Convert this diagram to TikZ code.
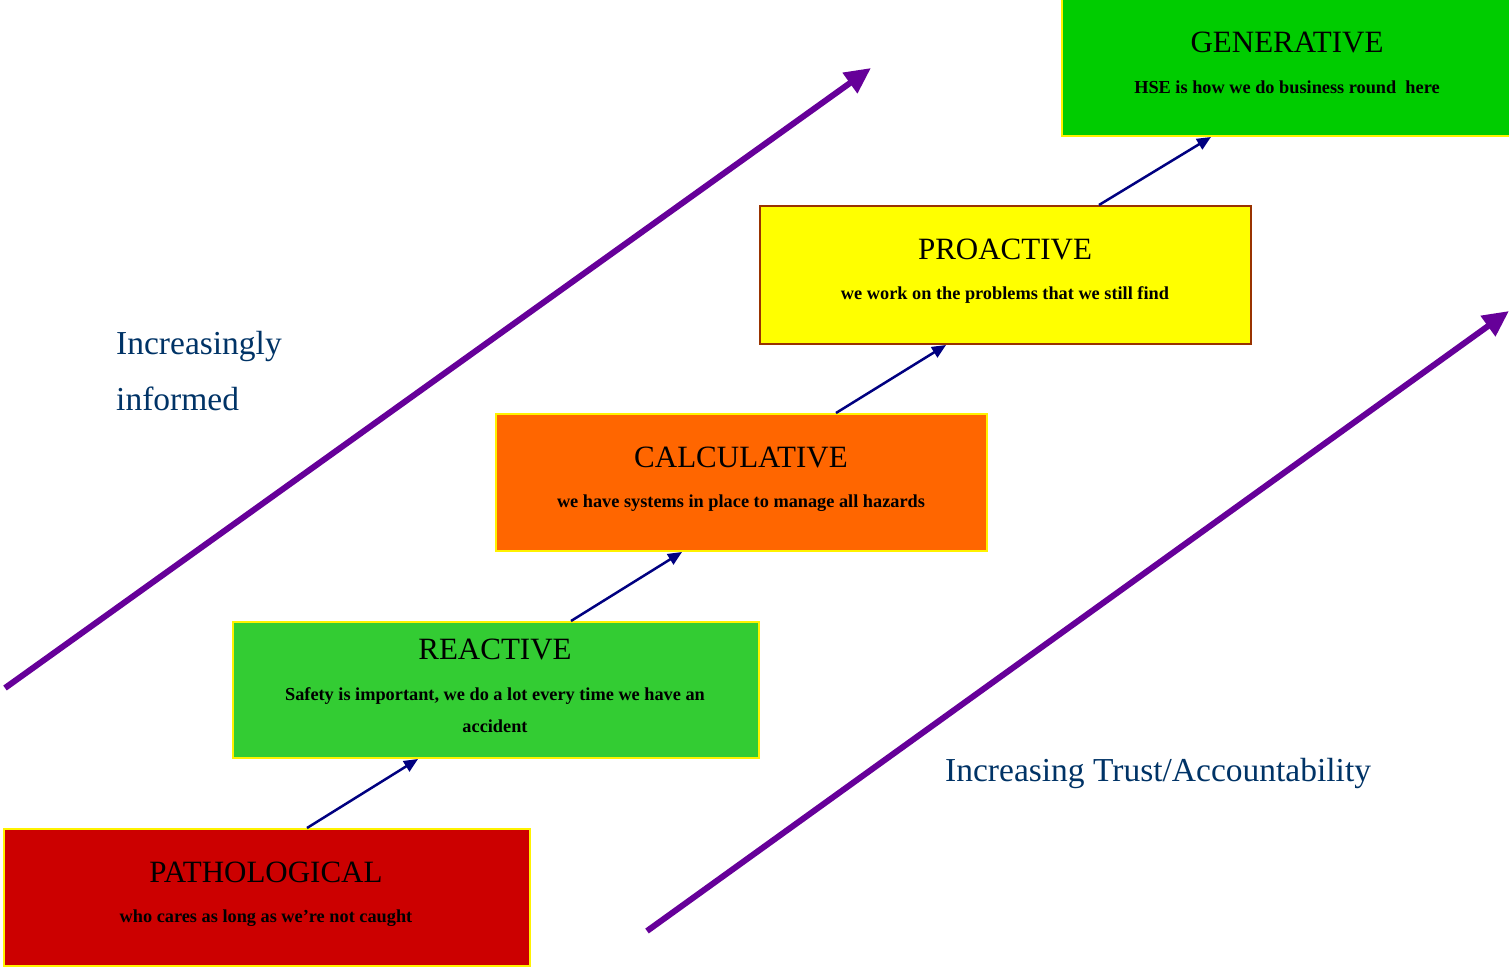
\documentclass[tikz,border=0pt]{standalone}
\usepackage{fontspec}
\setmainfont{Liberation Serif}
\usetikzlibrary{arrows.meta,calc}
\definecolor{cRed}{HTML}{CC0000}
\definecolor{cLime}{HTML}{33CC33}
\definecolor{cOrange}{HTML}{FF6600}
\definecolor{cYellow}{HTML}{FFFF00}
\definecolor{cGreen}{HTML}{00CC00}
\definecolor{cBrown}{HTML}{993300}
\definecolor{cNavy}{HTML}{000080}
\definecolor{cPurple}{HTML}{660099}
\definecolor{cSide}{HTML}{003366}
\begin{document}
\begin{tikzpicture}[x=1pt,y=-1pt,
  stage/.style={draw=yellow, line width=2pt, anchor=north west, inner sep=0pt},
  ttl/.style={font=\fontsize{31}{36}\selectfont, inner sep=0pt},
  sub/.style={font=\bfseries\fontsize{18.3}{32}\selectfont, inner sep=0pt, align=center},
  up/.style={draw=cNavy, line width=2.5pt, -{Triangle[length=14pt,width=12pt]}},
  big/.style={draw=cPurple, line width=6pt, -{Triangle[length=26pt,width=24pt]}},
  side/.style={text=cSide, font=\fontsize{33.5}{56}\selectfont, inner sep=0pt, anchor=base west}]
\useasboundingbox (0,0) rectangle (1509,966);

% stage boxes
\node[stage, fill=cRed, minimum width=526pt, minimum height=137pt] (path) at (3,828) {};
\node[stage, fill=cLime, minimum width=526pt, minimum height=136pt] (reac) at (232,621) {};
\node[stage, fill=cOrange, minimum width=491pt, minimum height=137pt] (calc) at (495,413) {};
\node[stage, draw=cBrown, fill=cYellow, minimum width=491pt, minimum height=138pt] (pro) at (759,205) {};
\node[stage, fill=cGreen, minimum width=470pt, minimum height=145pt] (gen) at (1061,-10) {};

% texts
\node[ttl] (pathT) at (266,872) {PATHOLOGICAL};
\node[sub] (pathS) at (266,918) {who cares as long as we’re not caught};
\node[ttl] (reacT) at (495,649) {REACTIVE};
\node[sub] (reacS) at (495,710) {Safety is important, we do a lot every time we have an\\accident};
\node[ttl] (calcT) at (741,457) {CALCULATIVE};
\node[sub] (calcS) at (741,503) {we have systems in place to manage all hazards};
\node[ttl] (proT) at (1005,249) {PROACTIVE};
\node[sub] (proS) at (1005,295) {we work on the problems that we still find};
\node[ttl] (genT) at (1287,42) {GENERATIVE};
\node[sub] (genS) at (1287,87) {HSE is how we do business round\ \ here};

% step arrows
\draw[up] ($(path.north west)+(304,0)$) -- ($(reac.south west)+(186,0)$);
\draw[up] ($(reac.north west)+(339,0)$) -- ($(calc.south west)+(187,0)$);
\draw[up] ($(calc.north west)+(341,0)$) -- ($(pro.south west)+(187,0)$);
\draw[up] ($(pro.north west)+(340,0)$) -- ($(gen.south west)+(150,0)$);

% big arrows
\coordinate (a1s) at (5,688);
\coordinate (a1e) at (871,68);
\coordinate (a2s) at (647,931);
\coordinate (a2e) at (1509,311);
\draw[big] (a1s) -- (a1e);
\draw[big] (a2s) -- (a2e);

% side labels
\node[side] (inc1) at (116,354) {Increasingly};
\node[side] (inc2) at (116,410) {informed};
\node[side] (trust) at (945,781) {Increasing Trust/Accountability};
\end{tikzpicture}
\end{document}
